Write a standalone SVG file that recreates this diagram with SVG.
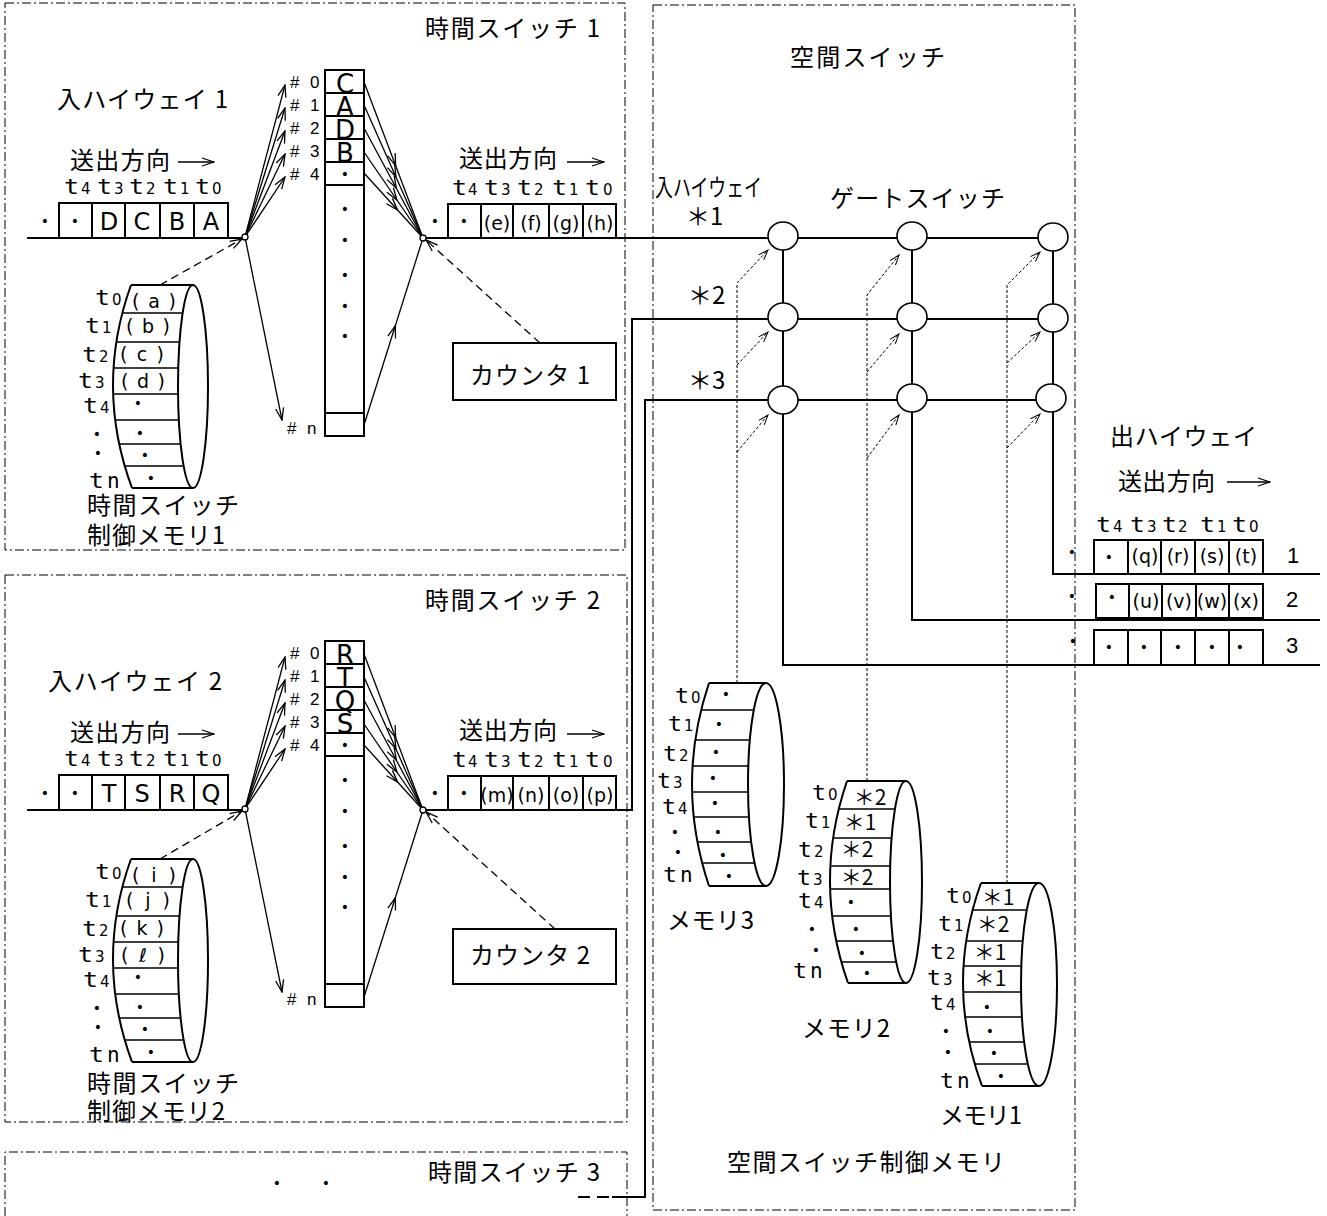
<svg xmlns="http://www.w3.org/2000/svg" width="1327" height="1216" viewBox="0 0 1327 1216">
<defs>
<style>
text{fill:#000}
.jp{font-family:"Noto Sans CJK JP","Noto Sans",sans-serif;font-size:24px}
.t{font-family:"DejaVu Sans Mono",monospace;font-size:21px}
.s{font-family:"DejaVu Sans",sans-serif;font-size:15px}
.lt{font-family:"DejaVu Sans",sans-serif;font-size:24px;text-anchor:middle}
.cl{font-family:"DejaVu Sans",sans-serif;font-size:26px;text-anchor:middle}
.pc{font-family:"DejaVu Sans",sans-serif;font-size:19px;text-anchor:middle}
.mc{font-family:"DejaVu Sans",sans-serif;font-size:19px;text-anchor:middle}
.ast{font-family:"Noto Sans CJK JP",sans-serif;font-size:21px;text-anchor:middle}
.d{font-family:"DejaVu Sans",sans-serif;font-size:14px;text-anchor:middle}
.hs{font-family:"Liberation Sans",sans-serif;font-size:17px}
.num{font-family:"Liberation Sans",sans-serif;font-size:22px;text-anchor:middle}
.frame{fill:none;stroke:#000;stroke-width:1;stroke-dasharray:9 3 2 3}
.ln{fill:none;stroke:#000;stroke-width:2}
.sp{fill:none;stroke:#000;stroke-width:1.6}
.bx{fill:#fff;stroke:#000;stroke-width:2}
.ar{fill:none;stroke:#000;stroke-width:1.3}
.dl{fill:none;stroke:#000;stroke-width:1.3;stroke-dasharray:8 5}
.dt{fill:none;stroke:#000;stroke-width:1;stroke-dasharray:3 2}
.jn{fill:#fff;stroke:#000;stroke-width:1.3}
.gs{fill:#fff;stroke:#000;stroke-width:1.6}
</style>
<marker id="ah" markerUnits="userSpaceOnUse" markerWidth="14" markerHeight="10" viewBox="0 0 14 10" refX="13" refY="5" orient="auto"><path d="M1,1 L13,5 L1,9" fill="none" stroke="#000" stroke-width="1.3"/></marker>
<marker id="am" markerUnits="userSpaceOnUse" markerWidth="14" markerHeight="10" viewBox="0 0 14 10" refX="7" refY="5" orient="auto"><path d="M1,1 L13,5 L1,9" fill="none" stroke="#000" stroke-width="1.3"/></marker>
<marker id="as" markerUnits="userSpaceOnUse" markerWidth="12" markerHeight="10" viewBox="0 0 12 10" refX="11" refY="5" orient="auto"><path d="M1,1.5 L11,5 L1,8.5" fill="none" stroke="#000" stroke-width="1"/></marker>
<clipPath id="k-ts"><path d="M131,285 Q94.5,386.5 132,488 L193,488 A15,101.5 0 0 1 193,285 Z"/></clipPath>
<clipPath id="k-m3"><path d="M709,683 Q675,784.5 709,886 L766,886 A18,101.5 0 0 1 766,683 Z"/></clipPath>
<clipPath id="k-m2"><path d="M847,781 Q812.5,882 848,983 L906,983 A16,101 0 0 1 906,781 Z"/></clipPath>
<clipPath id="k-m1"><path d="M981,883 Q944.5,984.5 982,1086 L1039,1086 A18,101.5 0 0 1 1039,883 Z"/></clipPath>
</defs>
<rect width="1327" height="1216" fill="#fff"/>

<!-- frames -->
<g id="frame-ts1"><rect class="frame" x="5" y="3" width="620" height="547"/><text class="jp" x="425" y="37" textLength="175">時間スイッチ 1</text></g>
<g id="frame-ts2"><rect class="frame" x="5" y="575" width="622" height="547"/><text class="jp" x="425" y="609" textLength="175">時間スイッチ 2</text></g>
<g id="frame-ts3"><path class="frame" d="M5,1216 V1152 H627 V1216"/><text class="jp" x="428" y="1181" textLength="172">時間スイッチ 3</text><text class="d" x="277" y="1188">•</text><text class="d" x="326" y="1188">•</text></g>
<g id="frame-ss"><rect class="frame" x="653" y="5" width="422" height="1205"/><text class="jp" x="790" y="66" textLength="155">空間スイッチ</text><text class="jp" x="727" y="1171" textLength="278">空間スイッチ制御メモリ</text></g>

<!-- connectors -->
<g id="connectors">
 <g id="c-ts1">
  <path class="ln" d="M27,238 H242"/>
  <path class="ar" marker-end="url(#ah)" d="M245,237 L285,85"/>
  <path class="ar" marker-end="url(#ah)" d="M245,237 L285,108"/>
  <path class="ar" marker-end="url(#ah)" d="M245,237 L285,131"/>
  <path class="ar" marker-end="url(#ah)" d="M245,237 L285,154"/>
  <path class="ar" marker-end="url(#ah)" d="M245,237 L285,177"/>
  <path class="ar" marker-end="url(#ah)" d="M245,237 L282,420"/>
  <path class="ar" marker-mid="url(#am)" d="M364,82 L393.5,160 L423,238"/>
  <path class="ar" marker-mid="url(#am)" d="M364,105 L393.5,171.5 L423,238"/>
  <path class="ar" marker-mid="url(#am)" d="M364,128 L393.5,183 L423,238"/>
  <path class="ar" marker-mid="url(#am)" d="M364,152 L393.5,195 L423,238"/>
  <path class="ar" marker-mid="url(#am)" d="M364,173 L393.5,205.5 L423,238"/>
  <path class="ar" marker-mid="url(#am)" d="M364,425 L393.5,331.5 L423,238"/>
  <path class="dl" marker-end="url(#ah)" d="M160,285 L242,239"/>
  <path class="dl" marker-end="url(#ah)" d="M540,343 L426,240"/>
 </g>
 <g id="c-ts2" transform="translate(0,572)">
  <path class="ln" d="M27,238 H242"/>
  <path class="ar" marker-end="url(#ah)" d="M245,237 L285,85"/>
  <path class="ar" marker-end="url(#ah)" d="M245,237 L285,108"/>
  <path class="ar" marker-end="url(#ah)" d="M245,237 L285,131"/>
  <path class="ar" marker-end="url(#ah)" d="M245,237 L285,154"/>
  <path class="ar" marker-end="url(#ah)" d="M245,237 L285,177"/>
  <path class="ar" marker-end="url(#ah)" d="M245,237 L282,420"/>
  <path class="ar" marker-mid="url(#am)" d="M364,82 L393.5,160 L423,238"/>
  <path class="ar" marker-mid="url(#am)" d="M364,105 L393.5,171.5 L423,238"/>
  <path class="ar" marker-mid="url(#am)" d="M364,128 L393.5,183 L423,238"/>
  <path class="ar" marker-mid="url(#am)" d="M364,152 L393.5,195 L423,238"/>
  <path class="ar" marker-mid="url(#am)" d="M364,173 L393.5,205.5 L423,238"/>
  <path class="ar" marker-mid="url(#am)" d="M364,425 L393.5,331.5 L423,238"/>
  <path class="dl" marker-end="url(#ah)" d="M160,287 L242,239"/>
 </g>
 <path class="dl" marker-end="url(#ah)" d="M555,929 L426,812"/>
 <path class="ln" d="M426,238 H1053"/>
 <path class="ln" d="M426,810 H632 V319 H1053"/>
 <path class="ln" d="M612,1197 H645 V400 H1053"/>
 <path class="ln" stroke-dasharray="12 7" d="M578,1197 H612"/>
 <path class="ln" d="M783,236 V665 H1320"/>
 <path class="ln" d="M912,236 V620 H1320"/>
 <path class="ln" d="M1053,236 V574 H1320"/>
 <path class="dt" marker-end="url(#as)" d="M737,683 V283 L768,250"/>
 <path class="dt" marker-end="url(#as)" d="M737,365 L768,332"/>
 <path class="dt" marker-end="url(#as)" d="M737,452 L768,415"/>
 <path class="dt" marker-end="url(#as)" d="M867,781 V295 L899,255"/>
 <path class="dt" marker-end="url(#as)" d="M867,372 L899,334"/>
 <path class="dt" marker-end="url(#as)" d="M867,458 L899,415"/>
 <path class="dt" marker-end="url(#as)" d="M1007,883 V285 L1040,252"/>
 <path class="dt" marker-end="url(#as)" d="M1007,363 L1040,332"/>
 <path class="dt" marker-end="url(#as)" d="M1007,448 L1040,414"/>
 <circle class="jn" cx="245" cy="237" r="3"/>
 <circle class="jn" cx="423" cy="238" r="3"/>
 <circle class="jn" cx="245" cy="809" r="3"/>
 <circle class="jn" cx="423" cy="810" r="3"/>
</g>

<!-- TS1 -->
<g id="ts1-in">
 <text class="jp" x="57" y="108" textLength="171">入ハイウェイ 1</text>
 <text class="jp" x="70" y="169" textLength="100">送出方向</text>
 <path class="ar" marker-end="url(#ah)" d="M178,162 H214"/>
 <text class="t" x="64" y="194" textLength="15" lengthAdjust="spacingAndGlyphs">t</text><text class="s" x="81" y="194">4</text>
 <text class="t" x="97" y="194" textLength="15" lengthAdjust="spacingAndGlyphs">t</text><text class="s" x="114" y="194">3</text>
 <text class="t" x="129" y="194" textLength="15" lengthAdjust="spacingAndGlyphs">t</text><text class="s" x="146" y="194">2</text>
 <text class="t" x="163" y="194" textLength="15" lengthAdjust="spacingAndGlyphs">t</text><text class="s" x="180" y="194">1</text>
 <text class="t" x="195" y="194" textLength="15" lengthAdjust="spacingAndGlyphs">t</text><text class="s" x="212" y="194">0</text>
 <rect class="bx" x="59" y="203" width="169" height="35"/>
 <path class="ln" d="M92,203 V238 M125,203 V238 M160,203 V238 M194,203 V238"/>
 <text class="d" x="45" y="226">•</text><text class="d" x="75" y="226">•</text>
 <text class="lt" y="230"><tspan x="109">D</tspan><tspan x="142">C</tspan><tspan x="177">B</tspan><tspan x="211">A</tspan></text>
</g>
<g id="ts1-mem">
 <rect class="bx" x="325" y="70" width="39" height="366"/>
 <path class="ln" d="M325,93 H364 M325,116 H364 M325,139 H364 M325,162 H364 M325,185 H364 M325,413 H364"/>
 <text class="cl" x="345" y="93">C</text><text class="cl" x="345" y="116">A</text><text class="cl" x="345" y="139">D</text><text class="cl" x="345" y="162">B</text>
 <text class="d" x="345" y="179">•</text><text class="d" x="345" y="214">•</text><text class="d" x="345" y="245">•</text><text class="d" x="345" y="280">•</text><text class="d" x="345" y="311">•</text><text class="d" x="345" y="341">•</text>
 <text class="hs" x="290" y="88">#<tspan x="310">0</tspan></text>
 <text class="hs" x="290" y="111">#<tspan x="310">1</tspan></text>
 <text class="hs" x="290" y="134">#<tspan x="310">2</tspan></text>
 <text class="hs" x="290" y="157">#<tspan x="310">3</tspan></text>
 <text class="hs" x="290" y="180">#<tspan x="310">4</tspan></text>
 <text class="hs" x="287" y="434">#<tspan x="307">n</tspan></text>
</g>
<g id="ts1-out">
 <text class="jp" x="459" y="167" textLength="98">送出方向</text>
 <path class="ar" marker-end="url(#ah)" d="M567,162 H604"/>
 <text class="t" x="452" y="195" textLength="15" lengthAdjust="spacingAndGlyphs">t</text><text class="s" x="468" y="195">4</text>
 <text class="t" x="484" y="195" textLength="15" lengthAdjust="spacingAndGlyphs">t</text><text class="s" x="501" y="195">3</text>
 <text class="t" x="517" y="195" textLength="15" lengthAdjust="spacingAndGlyphs">t</text><text class="s" x="534" y="195">2</text>
 <text class="t" x="552" y="195" textLength="15" lengthAdjust="spacingAndGlyphs">t</text><text class="s" x="569" y="195">1</text>
 <text class="t" x="585" y="195" textLength="15" lengthAdjust="spacingAndGlyphs">t</text><text class="s" x="603" y="195">0</text>
 <rect class="bx" x="448" y="204" width="168" height="34"/>
 <path class="ln" d="M481,204 V238 M513,204 V238 M549,204 V238 M583,204 V238"/>
 <text class="d" x="435" y="226">•</text><text class="d" x="464" y="226">•</text>
 <text class="pc" y="230"><tspan x="497">(e)</tspan><tspan x="531">(f)</tspan><tspan x="566">(g)</tspan><tspan x="600">(h)</tspan></text>
</g>
<g id="ts1-counter">
 <rect class="bx" x="453" y="343" width="163" height="57"/>
 <text class="jp" x="470" y="384" textLength="120">カウンタ 1</text>
</g>
<g id="ts1-cm">
 <path class="ln" d="M131,285 Q94.5,386.5 132,488 M131,285 H193 M132,488 H193"/>
 <ellipse class="ln" cx="193" cy="386.5" rx="15" ry="101.5"/>
 <path class="sp" clip-path="url(#k-ts)" d="M100,313 H200 M100,342 H200 M100,368 H200 M100,394 H200 M100,420 H200 M100,444 H200 M100,466 H200"/>
 <text class="t" x="95" y="305" textLength="15" lengthAdjust="spacingAndGlyphs">t</text><text class="s" x="112" y="305">0</text>
 <text class="t" x="85" y="333" textLength="15" lengthAdjust="spacingAndGlyphs">t</text><text class="s" x="102" y="333">1</text>
 <text class="t" x="82" y="362" textLength="15" lengthAdjust="spacingAndGlyphs">t</text><text class="s" x="99" y="362">2</text>
 <text class="t" x="78" y="388" textLength="15" lengthAdjust="spacingAndGlyphs">t</text><text class="s" x="95" y="388">3</text>
 <text class="t" x="83" y="413" textLength="15" lengthAdjust="spacingAndGlyphs">t</text><text class="s" x="100" y="413">4</text>
 <text class="d" x="97" y="439">•</text><text class="d" x="98" y="458">•</text>
 <text class="t" x="89" y="488" textLength="15" lengthAdjust="spacingAndGlyphs">t</text><text class="t" x="107" y="488">n</text>
 <text class="mc" x="154" y="308" textLength="44">( a )</text>
 <text class="mc" x="148" y="333" textLength="44">( b )</text>
 <text class="mc" x="142" y="361" textLength="44">( c )</text>
 <text class="mc" x="143" y="388" textLength="44">( d )</text>
 <text class="d" x="138" y="408">•</text><text class="d" x="140" y="438">•</text><text class="d" x="145" y="460">•</text><text class="d" x="151" y="483">•</text>
 <text class="jp" x="87" y="514" textLength="152">時間スイッチ</text>
 <text class="jp" x="87" y="544" textLength="138">制御メモリ1</text>
</g>

<!-- TS2 -->
<g id="ts2-in">
 <text class="jp" x="48" y="690" textLength="174">入ハイウェイ 2</text>
 <g transform="translate(0,572)">
 <text class="jp" x="70" y="169" textLength="100">送出方向</text>
 <path class="ar" marker-end="url(#ah)" d="M178,162 H214"/>
 <text class="t" x="64" y="194" textLength="15" lengthAdjust="spacingAndGlyphs">t</text><text class="s" x="81" y="194">4</text>
 <text class="t" x="97" y="194" textLength="15" lengthAdjust="spacingAndGlyphs">t</text><text class="s" x="114" y="194">3</text>
 <text class="t" x="129" y="194" textLength="15" lengthAdjust="spacingAndGlyphs">t</text><text class="s" x="146" y="194">2</text>
 <text class="t" x="163" y="194" textLength="15" lengthAdjust="spacingAndGlyphs">t</text><text class="s" x="180" y="194">1</text>
 <text class="t" x="195" y="194" textLength="15" lengthAdjust="spacingAndGlyphs">t</text><text class="s" x="212" y="194">0</text>
 <rect class="bx" x="59" y="203" width="169" height="35"/>
 <path class="ln" d="M92,203 V238 M125,203 V238 M160,203 V238 M194,203 V238"/>
 <text class="d" x="45" y="226">•</text><text class="d" x="75" y="226">•</text>
 <text class="lt" y="230"><tspan x="109">T</tspan><tspan x="142">S</tspan><tspan x="177">R</tspan><tspan x="211">Q</tspan></text>
 </g>
</g>
<g id="ts2-mem" transform="translate(0,571)">
 <rect class="bx" x="325" y="70" width="39" height="366"/>
 <path class="ln" d="M325,93 H364 M325,116 H364 M325,139 H364 M325,162 H364 M325,185 H364 M325,413 H364"/>
 <text class="cl" x="345" y="93">R</text><text class="cl" x="345" y="116">T</text><text class="cl" x="345" y="139">Q</text><text class="cl" x="345" y="162">S</text>
 <text class="d" x="345" y="179">•</text><text class="d" x="345" y="214">•</text><text class="d" x="345" y="245">•</text><text class="d" x="345" y="280">•</text><text class="d" x="345" y="311">•</text><text class="d" x="345" y="341">•</text>
 <text class="hs" x="290" y="88">#<tspan x="310">0</tspan></text>
 <text class="hs" x="290" y="111">#<tspan x="310">1</tspan></text>
 <text class="hs" x="290" y="134">#<tspan x="310">2</tspan></text>
 <text class="hs" x="290" y="157">#<tspan x="310">3</tspan></text>
 <text class="hs" x="290" y="180">#<tspan x="310">4</tspan></text>
 <text class="hs" x="287" y="434">#<tspan x="307">n</tspan></text>
</g>
<g id="ts2-out" transform="translate(0,572)">
 <text class="jp" x="459" y="167" textLength="98">送出方向</text>
 <path class="ar" marker-end="url(#ah)" d="M567,162 H604"/>
 <text class="t" x="452" y="195" textLength="15" lengthAdjust="spacingAndGlyphs">t</text><text class="s" x="468" y="195">4</text>
 <text class="t" x="484" y="195" textLength="15" lengthAdjust="spacingAndGlyphs">t</text><text class="s" x="501" y="195">3</text>
 <text class="t" x="517" y="195" textLength="15" lengthAdjust="spacingAndGlyphs">t</text><text class="s" x="534" y="195">2</text>
 <text class="t" x="552" y="195" textLength="15" lengthAdjust="spacingAndGlyphs">t</text><text class="s" x="569" y="195">1</text>
 <text class="t" x="585" y="195" textLength="15" lengthAdjust="spacingAndGlyphs">t</text><text class="s" x="603" y="195">0</text>
 <rect class="bx" x="448" y="204" width="168" height="34"/>
 <path class="ln" d="M481,204 V238 M513,204 V238 M549,204 V238 M583,204 V238"/>
 <text class="d" x="435" y="226">•</text><text class="d" x="464" y="226">•</text>
 <text class="pc" y="230"><tspan x="497">(m)</tspan><tspan x="531">(n)</tspan><tspan x="566">(o)</tspan><tspan x="600">(p)</tspan></text>
</g>
<g id="ts2-counter">
 <rect class="bx" x="453" y="929" width="163" height="55"/>
 <text class="jp" x="470" y="964" textLength="120">カウンタ 2</text>
</g>
<g id="ts2-cm">
 <g transform="translate(0,574)">
 <path class="ln" d="M131,285 Q94.5,386.5 132,488 M131,285 H193 M132,488 H193"/>
 <ellipse class="ln" cx="193" cy="386.5" rx="15" ry="101.5"/>
 <path class="sp" clip-path="url(#k-ts)" d="M100,313 H200 M100,342 H200 M100,368 H200 M100,394 H200 M100,420 H200 M100,444 H200 M100,466 H200"/>
 <text class="t" x="95" y="305" textLength="15" lengthAdjust="spacingAndGlyphs">t</text><text class="s" x="112" y="305">0</text>
 <text class="t" x="85" y="333" textLength="15" lengthAdjust="spacingAndGlyphs">t</text><text class="s" x="102" y="333">1</text>
 <text class="t" x="82" y="362" textLength="15" lengthAdjust="spacingAndGlyphs">t</text><text class="s" x="99" y="362">2</text>
 <text class="t" x="78" y="388" textLength="15" lengthAdjust="spacingAndGlyphs">t</text><text class="s" x="95" y="388">3</text>
 <text class="t" x="83" y="413" textLength="15" lengthAdjust="spacingAndGlyphs">t</text><text class="s" x="100" y="413">4</text>
 <text class="d" x="97" y="439">•</text><text class="d" x="98" y="458">•</text>
 <text class="t" x="89" y="488" textLength="15" lengthAdjust="spacingAndGlyphs">t</text><text class="t" x="107" y="488">n</text>
 <text class="mc" x="154" y="308" textLength="44">( i )</text>
 <text class="mc" x="148" y="333" textLength="44">( j )</text>
 <text class="mc" x="142" y="361" textLength="44">( k )</text>
 <text class="mc" x="143" y="388" textLength="44">( ℓ )</text>
 <text class="d" x="138" y="408">•</text><text class="d" x="140" y="438">•</text><text class="d" x="145" y="460">•</text><text class="d" x="151" y="483">•</text>
 </g>
 <text class="jp" x="87" y="1092" textLength="152">時間スイッチ</text>
 <text class="jp" x="87" y="1120" textLength="138">制御メモリ2</text>
</g>

<!-- space switch -->
<g id="ss-labels">
 <text class="jp" x="655" y="196" textLength="107" lengthAdjust="spacingAndGlyphs">入ハイウェイ</text>
 <text class="jp" x="830" y="207" textLength="175">ゲートスイッチ</text>
 <text class="jp" x="686" y="225">＊1</text>
 <text class="jp" x="688" y="304">＊2</text>
 <text class="jp" x="688" y="389">＊3</text>
</g>
<g id="gates">
 <g id="gate-11"><ellipse class="gs" cx="783" cy="236" rx="15" ry="14"/></g>
 <g id="gate-12"><ellipse class="gs" cx="912" cy="236" rx="15" ry="14"/></g>
 <g id="gate-13"><ellipse class="gs" cx="1053" cy="237" rx="15" ry="14"/></g>
 <g id="gate-21"><ellipse class="gs" cx="783" cy="317" rx="15" ry="14"/></g>
 <g id="gate-22"><ellipse class="gs" cx="912" cy="317" rx="15" ry="14"/></g>
 <g id="gate-23"><ellipse class="gs" cx="1053" cy="318" rx="15" ry="14"/></g>
 <g id="gate-31"><ellipse class="gs" cx="783" cy="400" rx="15" ry="14"/></g>
 <g id="gate-32"><ellipse class="gs" cx="912" cy="398" rx="15" ry="14"/></g>
 <g id="gate-33"><ellipse class="gs" cx="1051" cy="398" rx="15" ry="14"/></g>
</g>
<g id="out-hw">
 <text class="jp" x="1110" y="445" textLength="147">出ハイウェイ</text>
 <text class="jp" x="1118" y="490" textLength="97">送出方向</text>
 <path class="ar" marker-end="url(#ah)" d="M1227,482 H1270"/>
 <text class="t" x="1096" y="532" textLength="15" lengthAdjust="spacingAndGlyphs">t</text><text class="s" x="1113" y="532">4</text>
 <text class="t" x="1130" y="532" textLength="15" lengthAdjust="spacingAndGlyphs">t</text><text class="s" x="1147" y="532">3</text>
 <text class="t" x="1162" y="532" textLength="15" lengthAdjust="spacingAndGlyphs">t</text><text class="s" x="1178" y="532">2</text>
 <text class="t" x="1200" y="532" textLength="15" lengthAdjust="spacingAndGlyphs">t</text><text class="s" x="1217" y="532">1</text>
 <text class="t" x="1232" y="532" textLength="15" lengthAdjust="spacingAndGlyphs">t</text><text class="s" x="1249" y="532">0</text>
 <rect class="bx" x="1094" y="540" width="169" height="34"/>
 <path class="ln" d="M1128,540 V574 M1161,540 V574 M1195,540 V574 M1229,540 V574"/>
 <text class="d" x="1109" y="562">•</text>
 <text class="pc" y="563"><tspan x="1145">(q)</tspan><tspan x="1178">(r)</tspan><tspan x="1212">(s)</tspan><tspan x="1246">(t)</tspan></text>
 <rect class="bx" x="1096" y="584" width="167" height="34"/>
 <path class="ln" d="M1129,584 V618 M1162,584 V618 M1196,584 V618 M1229,584 V618"/>
 <text class="d" x="1112" y="602">•</text>
 <text class="pc" y="608"><tspan x="1146">(u)</tspan><tspan x="1179">(v)</tspan><tspan x="1212">(w)</tspan><tspan x="1246">(x)</tspan></text>
 <rect class="bx" x="1094" y="630" width="169" height="35"/>
 <path class="ln" d="M1128,630 V665 M1161,630 V665 M1195,630 V665 M1229,630 V665"/>
 <text class="d" y="652"><tspan x="1109">•</tspan><tspan x="1144">•</tspan><tspan x="1178">•</tspan><tspan x="1212">•</tspan><tspan x="1240">•</tspan></text>
 <text class="d" x="1072" y="557">•</text><text class="d" x="1072" y="601">•</text><text class="d" x="1073" y="646">•</text>
 <text class="num" x="1293" y="563">1</text><text class="num" x="1292" y="607">2</text><text class="num" x="1292" y="653">3</text>
</g>
<g id="mem3">
 <path class="ln" d="M709,683 Q675,784.5 709,886 M709,683 H766 M709,886 H766"/>
 <ellipse class="ln" cx="766" cy="784.5" rx="18" ry="101.5"/>
 <path class="sp" clip-path="url(#k-m3)" d="M680,710 H770 M680,740 H770 M680,766 H770 M680,792 H770 M680,817 H770 M680,842 H770 M680,863 H770"/>
 <text class="t" x="675" y="703" textLength="14" lengthAdjust="spacingAndGlyphs">t</text><text class="s" x="691" y="703">0</text>
 <text class="t" x="668" y="731" textLength="14" lengthAdjust="spacingAndGlyphs">t</text><text class="s" x="684" y="731">1</text>
 <text class="t" x="663" y="761" textLength="14" lengthAdjust="spacingAndGlyphs">t</text><text class="s" x="679" y="761">2</text>
 <text class="t" x="657" y="788" textLength="14" lengthAdjust="spacingAndGlyphs">t</text><text class="s" x="673" y="788">3</text>
 <text class="t" x="662" y="814" textLength="14" lengthAdjust="spacingAndGlyphs">t</text><text class="s" x="678" y="814">4</text>
 <text class="d" x="675" y="837">•</text><text class="d" x="678" y="857">•</text>
 <text class="t" x="663" y="882" textLength="14" lengthAdjust="spacingAndGlyphs">t</text><text class="t" x="680" y="882">n</text>
 <text class="d" x="726" y="699">•</text><text class="d" x="719" y="729">•</text><text class="d" x="716" y="757">•</text><text class="d" x="713" y="783">•</text><text class="d" x="715" y="808">•</text><text class="d" x="718" y="837">•</text><text class="d" x="723" y="860">•</text><text class="d" x="729" y="881">•</text>
 <text class="jp" x="667" y="929" textLength="87">メモリ3</text>
</g>
<g id="mem2">
 <path class="ln" d="M847,781 Q812.5,882 848,983 M847,781 H906 M848,983 H906"/>
 <ellipse class="ln" cx="906" cy="882" rx="16" ry="101"/>
 <path class="sp" clip-path="url(#k-m2)" d="M815,809 H910 M815,838 H910 M815,866 H910 M815,889 H910 M815,916 H910 M815,941 H910 M815,962 H910"/>
 <text class="t" x="812" y="800" textLength="14" lengthAdjust="spacingAndGlyphs">t</text><text class="s" x="828" y="800">0</text>
 <text class="t" x="805" y="828" textLength="14" lengthAdjust="spacingAndGlyphs">t</text><text class="s" x="821" y="828">1</text>
 <text class="t" x="798" y="857" textLength="14" lengthAdjust="spacingAndGlyphs">t</text><text class="s" x="814" y="857">2</text>
 <text class="t" x="797" y="885" textLength="14" lengthAdjust="spacingAndGlyphs">t</text><text class="s" x="813" y="885">3</text>
 <text class="t" x="798" y="908" textLength="14" lengthAdjust="spacingAndGlyphs">t</text><text class="s" x="814" y="908">4</text>
 <text class="d" x="812" y="934">•</text><text class="d" x="816" y="955">•</text>
 <text class="t" x="793" y="978" textLength="14" lengthAdjust="spacingAndGlyphs">t</text><text class="t" x="810" y="978">n</text>
 <text class="ast" x="870" y="805">＊2</text><text class="ast" x="860" y="830">＊1</text><text class="ast" x="857" y="857">＊2</text><text class="ast" x="857" y="885">＊2</text>
 <text class="d" x="851" y="907">•</text><text class="d" x="856" y="934">•</text><text class="d" x="862" y="958">•</text><text class="d" x="867" y="978">•</text>
 <text class="jp" x="802" y="1037" textLength="88">メモリ2</text>
</g>
<g id="mem1">
 <path class="ln" d="M981,883 Q944.5,984.5 982,1086 M981,883 H1039 M982,1086 H1039"/>
 <ellipse class="ln" cx="1039" cy="984.5" rx="18" ry="101.5"/>
 <path class="sp" clip-path="url(#k-m1)" d="M950,910 H1045 M950,941 H1045 M950,966 H1045 M950,992 H1045 M950,1017 H1045 M950,1042 H1045 M950,1064 H1045"/>
 <text class="t" x="946" y="903" textLength="14" lengthAdjust="spacingAndGlyphs">t</text><text class="s" x="962" y="903">0</text>
 <text class="t" x="938" y="931" textLength="14" lengthAdjust="spacingAndGlyphs">t</text><text class="s" x="954" y="931">1</text>
 <text class="t" x="930" y="959" textLength="14" lengthAdjust="spacingAndGlyphs">t</text><text class="s" x="946" y="959">2</text>
 <text class="t" x="927" y="985" textLength="14" lengthAdjust="spacingAndGlyphs">t</text><text class="s" x="943" y="985">3</text>
 <text class="t" x="930" y="1010" textLength="14" lengthAdjust="spacingAndGlyphs">t</text><text class="s" x="946" y="1010">4</text>
 <text class="d" x="946" y="1036">•</text><text class="d" x="948" y="1057">•</text>
 <text class="t" x="940" y="1088" textLength="14" lengthAdjust="spacingAndGlyphs">t</text><text class="t" x="957" y="1088">n</text>
 <text class="ast" x="998" y="905">＊1</text><text class="ast" x="993" y="932">＊2</text><text class="ast" x="990" y="960">＊1</text><text class="ast" x="990" y="986">＊1</text>
 <text class="d" x="987" y="1012">•</text><text class="d" x="990" y="1036">•</text><text class="d" x="994" y="1058">•</text><text class="d" x="1001" y="1081">•</text>
 <text class="jp" x="940" y="1124" textLength="82">メモリ1</text>
</g>
</svg>
